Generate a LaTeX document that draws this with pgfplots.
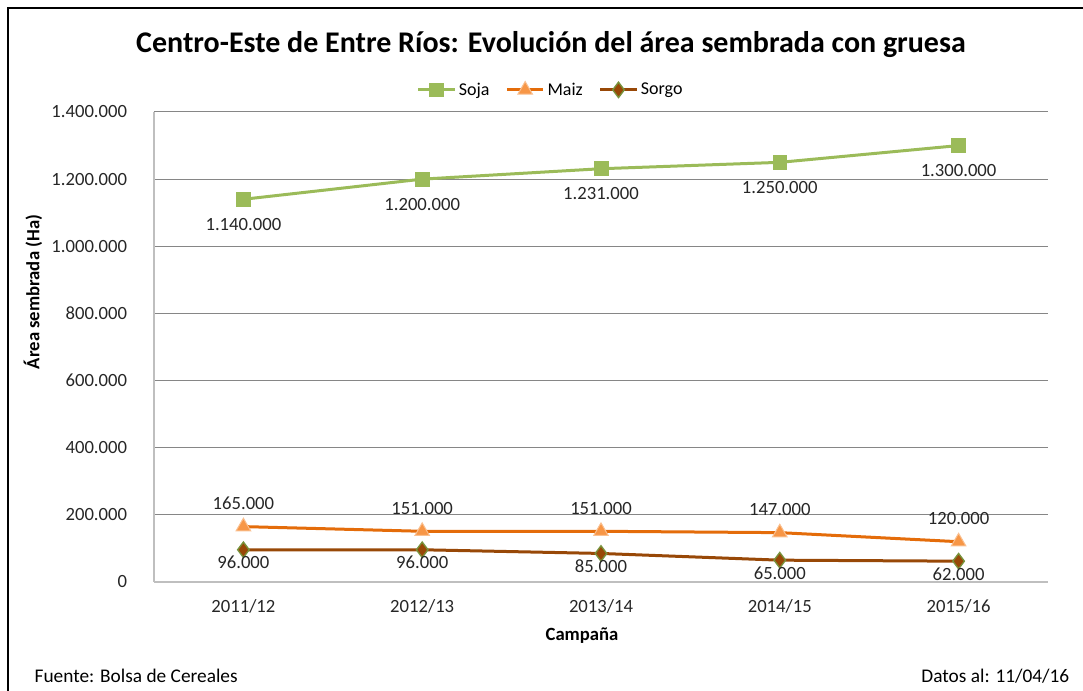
\documentclass[border=0pt]{standalone}
\usepackage{pgfplots}
\pgfplotsset{compat=1.18}
\usepackage{fontspec}
\setmainfont{Carlito}
\definecolor{soja}{HTML}{9BBB59}
\definecolor{maiz}{HTML}{E46C0A}
\definecolor{maizmk}{HTML}{F79646}
\definecolor{maizln}{HTML}{FAC090}
\definecolor{sorgo}{HTML}{984807}
\definecolor{sorgoln}{HTML}{77933C}
\definecolor{gridc}{HTML}{868686}
\definecolor{axc}{HTML}{BFBFBF}

\begin{document}
% 1 unit = 1 px of the reference (0.75pt), y measured from the bottom
\begin{tikzpicture}[x=0.75pt, y=0.75pt]
\useasboundingbox (0,0) rectangle (1083,691);
\draw[line width=2.2pt] (8,0) -- (8,683) -- (1090,683);

\begin{axis}[
  at={(115.5pt,81.75pt)}, anchor=south west,
  width=670.5pt, height=352.5pt, scale only axis,
  xmin=-0.5, xmax=4.5, ymin=0, ymax=1400000,
  xtick={0,1,2,3,4},
  xticklabels={2011/12, 2012/13, 2013/14, 2014/15, 2015/16},
  ytick={0,200000,...,1400000},
  scaled y ticks=false,
  /pgf/number format/.cd, fixed, precision=0, 1000 sep={.}, assume math mode=true,
  /pgfplots/.cd,
  major tick length=0pt,
  ymajorgrids, grid style={gridc, line width=0.75pt},
  axis x line*=bottom, axis y line*=left,
  axis line style={axc, line width=1pt, -},
  tick label style={font=\fontsize{14}{16}\selectfont, text=black!85},
  yticklabel style={inner sep=0pt, xshift=-20pt},
  xticklabel style={inner sep=0pt, anchor=center, yshift=-18pt},
  nodes near coords,
  every node near coord/.append style={font=\fontsize{14}{16}\selectfont,
    text=black!85, inner sep=0pt, anchor=center},
  legend style={at={(0.444,1.047)}, anchor=center, legend columns=3, draw=none,
    fill=none, font=\fontsize{13.5}{15}\selectfont,
    /tikz/every even column/.append style={column sep=10pt}},
  legend image code/.code={\draw[#1, mark repeat=2, mark phase=2]
    plot coordinates {(0cm,0cm) (0.48cm,0cm) (0.96cm,0cm)};},
]
\addplot[soja, line width=2.25pt, mark=square*,
  mark options={solid, fill=soja, draw=soja, line width=0.5pt}, mark size=5.2pt,
  every node near coord/.append style={yshift=-18.75pt}]
  coordinates {(0,1140000) (1,1200000) (2,1231000) (3,1250000) (4,1300000)};
\addplot[maiz, line width=2.25pt, mark=triangle*,
  mark options={solid, fill=maizmk, draw=maizln, line width=0.75pt}, mark size=6.3pt,
  every node near coord/.append style={yshift=17.25pt}]
  coordinates {(0,165000) (1,151000) (2,151000) (3,147000) (4,120000)};
\addplot[sorgo, line width=2.25pt, mark=diamond*,
  mark options={solid, fill=sorgo, draw=sorgoln, line width=1pt}, mark size=5.8pt,
  every node near coord/.append style={yshift=-9.5pt}]
  coordinates {(0,96000) (1,96000) (2,85000) (3,65000) (4,62000)};
\legend{Soja, Maiz, Sorgo}
\end{axis}

\node[font=\fontsize{22.5}{26}\selectfont\bfseries] at (551,646)
  {Centro-Este de Entre Ríos: Evolución del área sembrada con gruesa};
\node[font=\fontsize{14}{16}\selectfont\bfseries, rotate=90] at (33,399)
  {Área sembrada (Ha)};
\node[font=\fontsize{14}{16}\selectfont\bfseries] at (582,55) {Campaña};
\node[font=\fontsize{14.5}{16}\selectfont, anchor=west] at (30,15)
  {Fuente: Bolsa de Cereales};
\node[font=\fontsize{14.5}{16}\selectfont, anchor=east] at (1074,15)
  {Datos al: 11/04/16};
\end{tikzpicture}
\end{document}
